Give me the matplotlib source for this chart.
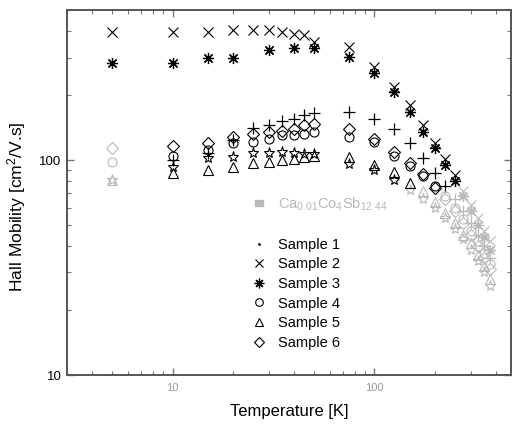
import matplotlib
matplotlib.use("Agg")
import matplotlib.pyplot as plt
import numpy as np
from matplotlib.lines import Line2D
from matplotlib.ticker import LogLocator, NullFormatter, FixedLocator, FixedFormatter

plt.rcParams['font.family'] = ['Liberation Sans', 'DejaVu Sans']

# ---- data ----
T_ref = [5, 10, 15, 20, 25, 30, 35, 40, 45, 50, 75, 100, 125, 150, 175, 200, 225, 250, 275, 300, 325, 350, 375]
mu_ref = [81, 93, 102, 104, 108, 108, 109, 108, 107, 107, 96, 90, 81, 73, 66, 60, 54, 48, 43, 38, 34, 30, 26]

T_s1 = [10, 15, 20, 25, 30, 35, 40, 45, 50, 75, 100, 125, 150, 175, 200, 225, 250, 275, 300, 325, 350, 375]
mu_s1 = [100, 108, 124, 141, 146, 152, 156, 162, 165, 168, 156, 139, 120, 102, 87, 76, 66, 58, 51, 45, 40, 35]

T_s2 = [5, 10, 15, 20, 25, 30, 35, 40, 45, 50, 75, 100, 125, 150, 175, 200, 225, 250, 275, 300, 325, 350, 375]
mu_s2 = [393, 393, 395, 402, 405, 402, 395, 388, 381, 355, 336, 270, 219, 180, 145, 120, 101, 85, 72, 62, 54, 47, 42]

T_s3 = [5, 10, 15, 20, 30, 40, 50, 75, 100, 125, 150, 175, 200, 225, 250, 275, 300, 325, 350, 375]
mu_s3 = [282, 282, 300, 300, 325, 331, 331, 302, 254, 207, 167, 135, 114, 95, 80, 68, 58, 50, 44, 38]

T_s4 = [5, 10, 15, 20, 25, 30, 35, 40, 45, 50, 75, 100, 125, 150, 175, 200, 225, 250, 275, 300, 325, 350, 375]
mu_s4 = [98, 105, 111, 120, 122, 125, 131, 131, 133, 135, 128, 122, 105, 94, 84, 76, 68, 60, 53, 47, 42, 37, 33]

T_s5 = [5, 10, 15, 20, 25, 30, 35, 40, 45, 50, 75, 100, 125, 150, 175, 200, 225, 250, 275, 300, 325, 350, 375]
mu_s5 = [81, 87, 90, 93, 97, 98, 100, 101, 104, 105, 104, 95, 88, 78, 72, 64, 57, 51, 45, 41, 36, 32, 28]

T_s6 = [5, 10, 15, 20, 25, 30, 35, 40, 45, 50, 75, 100, 125, 150, 175, 200, 225, 250, 275, 300, 325, 350, 375]
mu_s6 = [114, 117, 120, 128, 133, 135, 137, 140, 146, 147, 140, 126, 109, 97, 86, 74, 66, 58, 51, 45, 40, 35, 31]

ref_label = 'Ca$\\mathregular{_{0.01}}$Co$\\mathregular{_4}$Sb$\\mathregular{_{12.44}}$'
sample_labels = ['Sample 1', 'Sample 2', 'Sample 3', 'Sample 4', 'Sample 5', 'Sample 6']
x_ticks = [10, 100]
x_ticklabels = ['10', '100']
y_ticks = [10, 100]
y_ticklabels = ['10', '100']

FADE = '#b8b8b8'

fig = plt.figure(figsize=(5.12, 4.3), dpi=100)
ax = fig.add_axes([67/512, 1-375/430, (511-67)/512, (375-10)/430])
ax.set_xscale('log')
ax.set_yscale('log')
ax.set_xlim(3, 475)
ax.set_ylim(10, 500)

styles = [
    (T_ref, mu_ref, dict(marker='*', ms=8, mfc='none', mew=0.8)),
    (T_s1, mu_s1, dict(marker='+', ms=8, mew=0.9)),
    (T_s2, mu_s2, dict(marker='x', ms=7, mew=0.8)),
    (T_s3, mu_s3, dict(marker=(8, 2, 0), ms=8, mew=0.9)),
    (T_s4, mu_s4, dict(marker='o', ms=6.5, mfc='none', mew=0.8)),
    (T_s5, mu_s5, dict(marker='^', ms=7, mfc='none', mew=0.8)),
    (T_s6, mu_s6, dict(marker='D', ms=6, mfc='none', mew=0.8)),
]

for T, mu, st in styles:
    T = np.asarray(T, float)
    mu = np.asarray(mu, float)
    faded = (mu < 74) | ((T < 6) & (mu < 150))
    ax.plot(T[~faded], mu[~faded], ls='none', color='black', mec='black', **st)
    ax.plot(T[faded], mu[faded], ls='none', color=FADE, mec=FADE, **st)

# ticks
ax.xaxis.set_major_locator(FixedLocator(x_ticks))
ax.xaxis.set_major_formatter(FixedFormatter(x_ticklabels))
ax.yaxis.set_major_locator(FixedLocator(y_ticks))
ax.yaxis.set_major_formatter(FixedFormatter(y_ticklabels))
ax.xaxis.set_minor_locator(LogLocator(base=10, subs=np.arange(2, 10)))
ax.yaxis.set_minor_locator(LogLocator(base=10, subs=np.arange(2, 10)))
ax.xaxis.set_minor_formatter(NullFormatter())
ax.yaxis.set_minor_formatter(NullFormatter())
ax.tick_params(which='both', direction='in', top=True, right=True, color='#777777')
ax.tick_params(which='major', length=5, width=1)
ax.tick_params(which='minor', length=3, width=0.8)
ax.tick_params(axis='x', labelsize=8, labelcolor='#999999', pad=6)
ax.tick_params(axis='y', labelsize=9.5, labelcolor='black', pad=4)
for sp in ax.spines.values():
    sp.set_color('#555555')
    sp.set_linewidth(1.4)

ax.set_xlabel('Temperature [K]', fontsize=12, labelpad=8)
ax.set_ylabel('Hall Mobility [cm$\\mathregular{^2}$/V.s]', fontsize=12.6)
ax.yaxis.set_label_coords(-0.088, 0.46)

# legend
handles = [Line2D([], [], ls='none', color=FADE, mec=FADE, marker='$\\equiv$', ms=6),
           Line2D([], [], ls='none', marker=None)]
labels = [ref_label, ' ']
leg_styles = [dict(marker='.', ms=2), dict(marker='x', ms=6, mew=0.8),
              dict(marker=(8, 2, 0), ms=7, mew=0.9), dict(marker='o', ms=5.5, mfc='none', mew=0.8),
              dict(marker='^', ms=6, mfc='none', mew=0.8), dict(marker='D', ms=5, mfc='none', mew=0.8)]
for lab, st in zip(sample_labels, leg_styles):
    handles.append(Line2D([], [], ls='none', color='black', mec='black', **st))
    labels.append(lab)
leg = ax.legend(handles, labels, loc='upper left', bbox_to_anchor=(0.416, 0.492),
                frameon=False, fontsize=10.5, handlelength=1.0, handletextpad=0.8,
                labelspacing=0.38, borderpad=0, borderaxespad=0)
leg.get_texts()[0].set_color(FADE)

fig.savefig('out.png', dpi=100)
